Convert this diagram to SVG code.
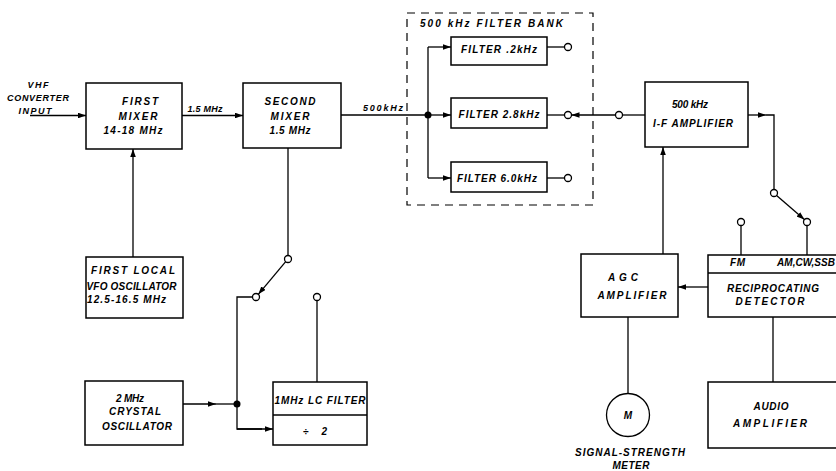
<svg xmlns="http://www.w3.org/2000/svg" width="836" height="471" viewBox="0 0 836 471">
<style>
.box{fill:#fff;stroke:#000;stroke-width:1.5}
.ln{fill:none;stroke:#000;stroke-width:1.3}
.arr{marker-end:url(#ah)}
.term{fill:#fff;stroke:#000;stroke-width:1.3}
.dot{fill:#000}
text{font-family:"Liberation Sans",Arial,sans-serif;font-style:italic;font-weight:bold;fill:#000;font-size:10px;text-anchor:middle}
.sm{font-size:9px}
.lft{text-anchor:start}
</style>
<defs>
<marker id="ah" viewBox="0 0 10 7" refX="10" refY="3.5" markerWidth="8" markerHeight="5.6" markerUnits="userSpaceOnUse" orient="auto">
<path d="M0,0 L10,3.5 L0,7 z" fill="#000"/>
</marker>
</defs>
<rect width="836" height="471" fill="#fff"/>

<g id="connectors">
<line class="ln arr" x1="30" y1="115.5" x2="86" y2="115.5"/>
<line class="ln arr" x1="182" y1="115.5" x2="243" y2="115.5"/>
<line class="ln arr" x1="133" y1="257" x2="133" y2="149"/>
<line class="ln" x1="341" y1="115" x2="428" y2="115"/>
<circle class="dot" cx="428" cy="115" r="3.5"/>
<line class="ln" x1="428" y1="47" x2="428" y2="178"/>
<line class="ln arr" x1="428" y1="47" x2="451" y2="47"/>
<line class="ln arr" x1="428" y1="115" x2="451" y2="115"/>
<line class="ln arr" x1="428" y1="178" x2="451" y2="178"/>
<line class="ln" x1="547" y1="47" x2="564.5" y2="47"/>
<line class="ln" x1="547" y1="115" x2="564.5" y2="115"/>
<line class="ln" x1="547" y1="178" x2="564.5" y2="178"/>
<circle class="term" cx="568" cy="47" r="3.5"/>
<circle class="term" cx="568" cy="115" r="3.5"/>
<circle class="term" cx="568" cy="178" r="3.5"/>
<line class="ln arr" x1="615.5" y1="115" x2="571.5" y2="115"/>
<circle class="term" cx="619" cy="115" r="3.5"/>
<line class="ln" x1="622.5" y1="115" x2="645" y2="115"/>
<line class="ln arr" x1="748" y1="115" x2="766" y2="115"/>
<polyline class="ln" points="766,115 774,115 774,189.5"/>
<circle class="term" cx="774" cy="193" r="3.5"/>
<line class="ln arr" x1="776.6" y1="195.4" x2="804.4" y2="219.6"/>
<circle class="term" cx="807" cy="222" r="3.5"/>
<line class="ln" x1="807" y1="225.5" x2="807" y2="255"/>
<circle class="term" cx="741" cy="222" r="3.5"/>
<line class="ln" x1="741" y1="225.5" x2="741" y2="255"/>
<line class="ln arr" x1="663" y1="254" x2="663" y2="147"/>
<line class="ln arr" x1="708" y1="287" x2="678" y2="287"/>
<line class="ln" x1="628" y1="317" x2="628" y2="393.5"/>
<line class="ln" x1="773" y1="317" x2="773" y2="382"/>
<line class="ln" x1="288" y1="148" x2="288" y2="255.5"/>
<circle class="term" cx="288" cy="259" r="3.5"/>
<line class="ln arr" x1="285.7" y1="261.7" x2="258.3" y2="294.3"/>
<circle class="term" cx="256" cy="297" r="3.5"/>
<polyline class="ln" points="252.5,297 237,297 237,429 262,429"/>
<line class="ln arr" x1="237" y1="429" x2="273" y2="429"/>
<line class="ln arr" x1="183" y1="404" x2="216" y2="404"/>
<line class="ln" x1="216" y1="404" x2="237" y2="404"/>
<circle class="dot" cx="237" cy="404" r="3.5"/>
<circle class="term" cx="317" cy="297" r="3.5"/>
<line class="ln" x1="317" y1="300.5" x2="317" y2="382"/>
</g>

<g id="vhf-input">
<text class="sm" x="38" y="88" textLength="21">VHF</text>
<text class="sm" x="38" y="101" textLength="62">CONVERTER</text>
<text class="sm" x="35" y="114" textLength="33">INPUT</text>
</g>

<g id="first-mixer">
<rect class="box" x="86" y="83" width="96" height="66"/>
<text x="140" y="105" textLength="36">FIRST</text>
<text x="138" y="120" textLength="39">MIXER</text>
<text x="133" y="134" textLength="59">14-18 MHz</text>
</g>
<text class="sm" x="205" y="112" textLength="35">1.5 MHz</text>

<g id="second-mixer">
<rect class="box" x="243" y="83" width="98" height="65"/>
<text x="290" y="105" textLength="51">SECOND</text>
<text x="290" y="120" textLength="39">MIXER</text>
<text x="290" y="134" textLength="41">1.5 MHz</text>
</g>
<text class="sm" x="383" y="111" textLength="40">500kHz</text>

<g id="filter-bank">
<rect x="407" y="13" width="186" height="192" fill="none" stroke="#000" stroke-width="1.2" stroke-dasharray="8,6"/>
<text class="lft" x="420" y="27" textLength="143">500 kHz  FILTER  BANK</text>
</g>
<g id="filter-02">
<rect class="box" x="451" y="37" width="96" height="28"/>
<text x="499" y="53" textLength="76">FILTER .2kHz</text>
</g>
<g id="filter-28">
<rect class="box" x="451" y="98" width="96" height="30"/>
<text x="499" y="118" textLength="81">FILTER 2.8kHz</text>
</g>
<g id="filter-60">
<rect class="box" x="451" y="162" width="96" height="30"/>
<text x="497" y="182" textLength="80">FILTER 6.0kHz</text>
</g>

<g id="if-amplifier">
<rect class="box" x="645" y="82" width="103" height="65"/>
<text x="690" y="108" textLength="36">500 kHz</text>
<text x="693" y="127" textLength="80">I-F AMPLIFIER</text>
</g>

<g id="vfo">
<rect class="box" x="86" y="257" width="97" height="61"/>
<text class="lft" x="91" y="274" textLength="84">FIRST  LOCAL</text>
<text class="lft" x="86.5" y="290" textLength="90">VFO OSCILLATOR</text>
<text class="lft" x="87" y="303" textLength="79">12.5-16.5 MHz</text>
</g>

<g id="crystal-oscillator">
<rect class="box" x="85" y="381" width="98" height="64"/>
<text x="130" y="402" textLength="28">2 MHz</text>
<text x="135" y="415" textLength="52">CRYSTAL</text>
<text x="137" y="430" textLength="70">OSCILLATOR</text>
</g>

<g id="lc-filter">
<rect class="box" x="273" y="382" width="94" height="63"/>
<line class="ln" x1="273" y1="415" x2="367" y2="415"/>
<text x="320" y="404" textLength="91">1MHz LC FILTER</text>
<text x="315" y="435" textLength="24">÷ 2</text>
</g>

<g id="agc-amplifier">
<rect class="box" x="581" y="254" width="97" height="63"/>
<text x="623" y="281" textLength="30">AGC</text>
<text x="632" y="299" textLength="69">AMPLIFIER</text>
</g>

<g id="detector">
<rect class="box" x="708" y="255" width="130" height="62"/>
<line class="ln" x1="708" y1="273" x2="836" y2="273"/>
<text x="737.5" y="266" textLength="15">F M</text>
<text class="lft" x="777" y="266" textLength="58">AM,CW,SSB</text>
<text x="773" y="292" textLength="92">RECIPROCATING</text>
<text x="770" y="305" textLength="69">DETECTOR</text>
</g>

<g id="audio-amplifier">
<rect class="box" x="708" y="382" width="130" height="66"/>
<text x="771" y="410" textLength="35">AUDIO</text>
<text x="770" y="427" textLength="74">AMPLIFIER</text>
</g>

<g id="meter">
<circle cx="628" cy="415" r="21.5" fill="#fff" stroke="#000" stroke-width="1.3"/>
<text x="628" y="419">M</text>
<text x="630" y="456" textLength="110">SIGNAL-STRENGTH</text>
<text x="631" y="469" textLength="37">METER</text>
</g>
</svg>
